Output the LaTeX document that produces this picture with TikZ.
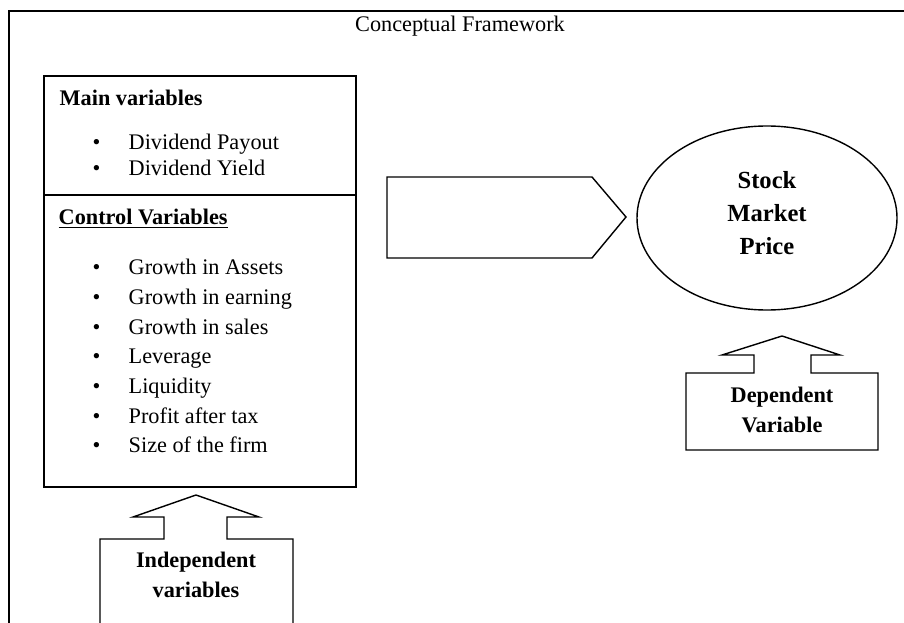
\documentclass[tikz,border=0pt]{standalone}
\usepackage{fontspec}
\setmainfont{Liberation Serif}
\usepackage{tikz}
\usetikzlibrary{shapes}
\usetikzlibrary{calc}
\usetikzlibrary{positioning}

\begin{document}
\begin{tikzpicture}[x=0.03cm, y=-0.03cm, line width=1.2pt,
    txt/.style={inner sep=0pt, text height=0.7em, text depth=0.2em,
      font=\fontsize{19}{23}\selectfont},
    item/.style={txt, anchor=west},
    head/.style={txt, anchor=west, font=\fontsize{19}{23}\selectfont\bfseries},
    lbl/.style={inner sep=0pt, align=center, font=\fontsize{19}{25.5}\selectfont\bfseries}]

  \useasboundingbox (0,0) rectangle (904,623);
  \draw[line width=2.2pt] (9,630) -- (9,11) -- (910,11);

  \node[txt] (title) at (460,29) {Conceptual Framework};

  % variables box
  \draw (44,76) rectangle (356,487);
  \draw (44,195) -- (356,195);
  \node[head] (main) at (59,103) {Main variables};
  \foreach \t [count=\i] in {Dividend Payout, Dividend Yield} {
    \node[item] (mb\i) at (92,121+26*\i) {\textbullet};
    \node[item] (m\i) at (128,121+26*\i) {\t};
  }
  \node[head] (ctrl) at (58,222) {\underline{Control Variables}};
  \foreach \t [count=\i] in {Growth in Assets, Growth in earning, Growth in sales,
      Leverage, Liquidity, Profit after tax, Size of the firm} {
    \node[item] (cb\i) at (92,242+29.7*\i) {\textbullet};
    \node[item] (c\i) at (128,242+29.7*\i) {\t};
  }

  % block arrow
  \draw (387,177) -- (592,177) -- (626,217) -- (592,258) -- (387,258) -- cycle;

  \node[ellipse, draw, minimum width=7.8cm, minimum height=5.52cm] (smp) at (767,218) {};
  \node[lbl, font=\fontsize{21}{28.5}\selectfont\bfseries] (price) at (767,213) {Stock\\Market\\Price};

  % up arrow callouts
  \draw (100,630) -- (100,539) -- (164,539) -- (164,517) -- (133,517) -- (196,495)
    -- (259,517) -- (227,517) -- (227,539) -- (293,539) -- (293,630);
  \node[lbl] (indep) at (196,575) {Independent\\variables};

  \draw (686,450) -- (686,373) -- (754,373) -- (754,355) -- (722,355) -- (782,336)
    -- (840,355) -- (811,355) -- (811,373) -- (878,373) -- (878,450) -- cycle;
  \node[lbl] (dep) at (782,410) {Dependent\\Variable};

\end{tikzpicture}
\end{document}
